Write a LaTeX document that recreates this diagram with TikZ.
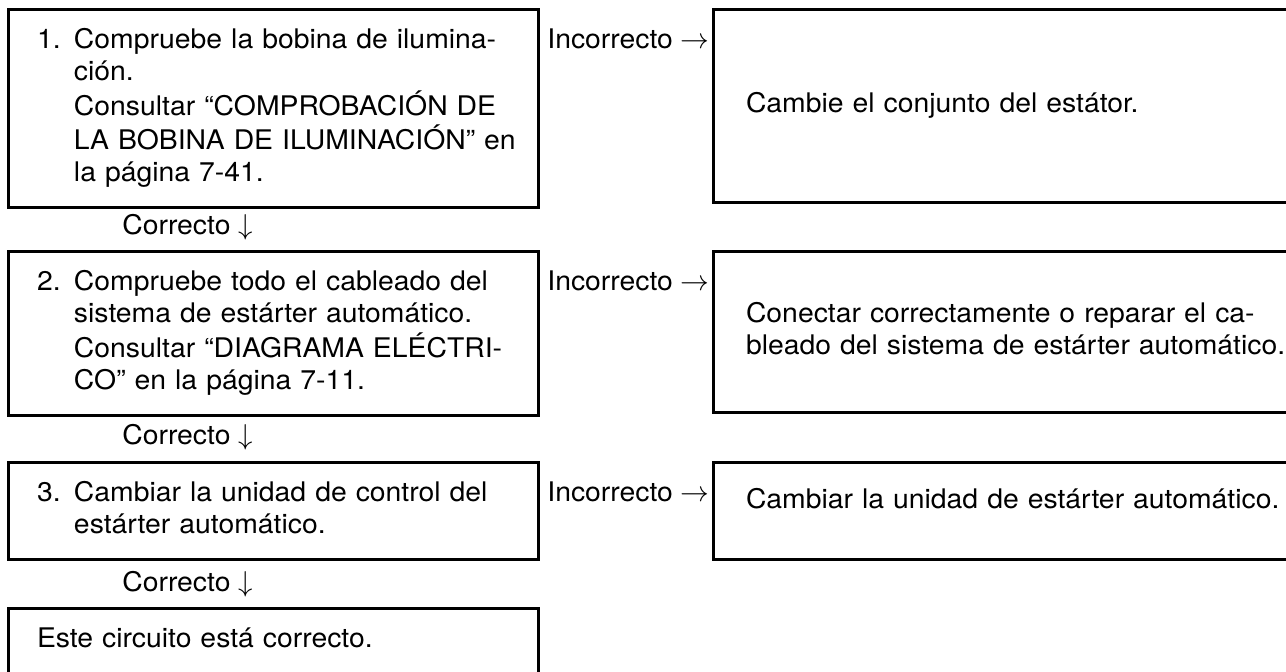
\documentclass[tikz,border=0pt]{standalone}
\usepackage{fontspec}
\setmainfont[FakeStretch=1.05]{TeX Gyre Heros}
\usetikzlibrary{positioning}

\begin{document}
\begin{tikzpicture}[x=0.5pt, y=-0.5pt,
  font=\fontsize{13.5}{16}\selectfont,
  stepbox/.style={draw, line width=1.5pt, anchor=north west, outer sep=0pt,
                  minimum width=265pt, text width=236pt, align=left,
                  inner xsep=14.5pt, inner ysep=8.25pt},
  fixbox/.style={stepbox, minimum width=300pt, text width=267pt,
                 inner xsep=16.5pt, minimum height=#1},
  verdict/.style={anchor=base west, inner sep=0pt}
]

\useasboundingbox (0,0) rectangle (1286,672);

% checks, left column
\node[stepbox] (chk1) at (8,10) {\begin{tabular}{@{}p{18.5pt}@{}l@{}}
  1. & Compruebe la bobina de ilumina-\\
     & ción.\\
     & Consultar “COMPROBACIÓN DE\\
     & LA BOBINA DE ILUMINACIÓN” en\\
     & la página 7-41.
  \end{tabular}};
\node[stepbox] (chk2) at (8,252) {\begin{tabular}{@{}p{18.5pt}@{}l@{}}
  2. & Compruebe todo el cableado del\\
     & sistema de estárter automático.\\
     & Consultar “DIAGRAMA ELÉCTRI-\\
     & CO” en la página 7-11.
  \end{tabular}};
\node[stepbox] (chk3) at (8,463) {\begin{tabular}{@{}p{18.5pt}@{}l@{}}
  3. & Cambiar la unidad de control del\\
     & estárter automático.
  \end{tabular}};
\node[stepbox] (done) at (8,609) {\begin{tabular}{@{}l@{}}
  Este circuito está correcto.
  \end{tabular}};

% remedies, right column
\node[fixbox=96.5pt] (fix1) at (713,10) {\begin{tabular}{@{}l@{}}
  Cambie el conjunto del estátor.
  \end{tabular}};
\node[fixbox=80.5pt] (fix2) at (713,252) {\begin{tabular}{@{}l@{}}
  Conectar correctamente o reparar el ca-\\
  bleado del sistema de estárter automático.
  \end{tabular}};
\node[fixbox=48.5pt] (fix3) at (713,463) {\begin{tabular}{@{}l@{}}
  Cambiar la unidad de estárter automático.\\[-7pt]
  \mbox{}
  \end{tabular}};

% verdicts
\node[verdict] (bad1) at (547,49)  {Incorrecto $\rightarrow$};
\node[verdict] (bad2) at (547,291) {Incorrecto $\rightarrow$};
\node[verdict] (bad3) at (547,502) {Incorrecto $\rightarrow$};

\node[verdict] (ok1) at (122,235) {Correcto $\downarrow$};
\node[verdict] (ok2) at (122,445) {Correcto $\downarrow$};
\node[verdict] (ok3) at (122,592) {Correcto $\downarrow$};

\end{tikzpicture}
\end{document}
